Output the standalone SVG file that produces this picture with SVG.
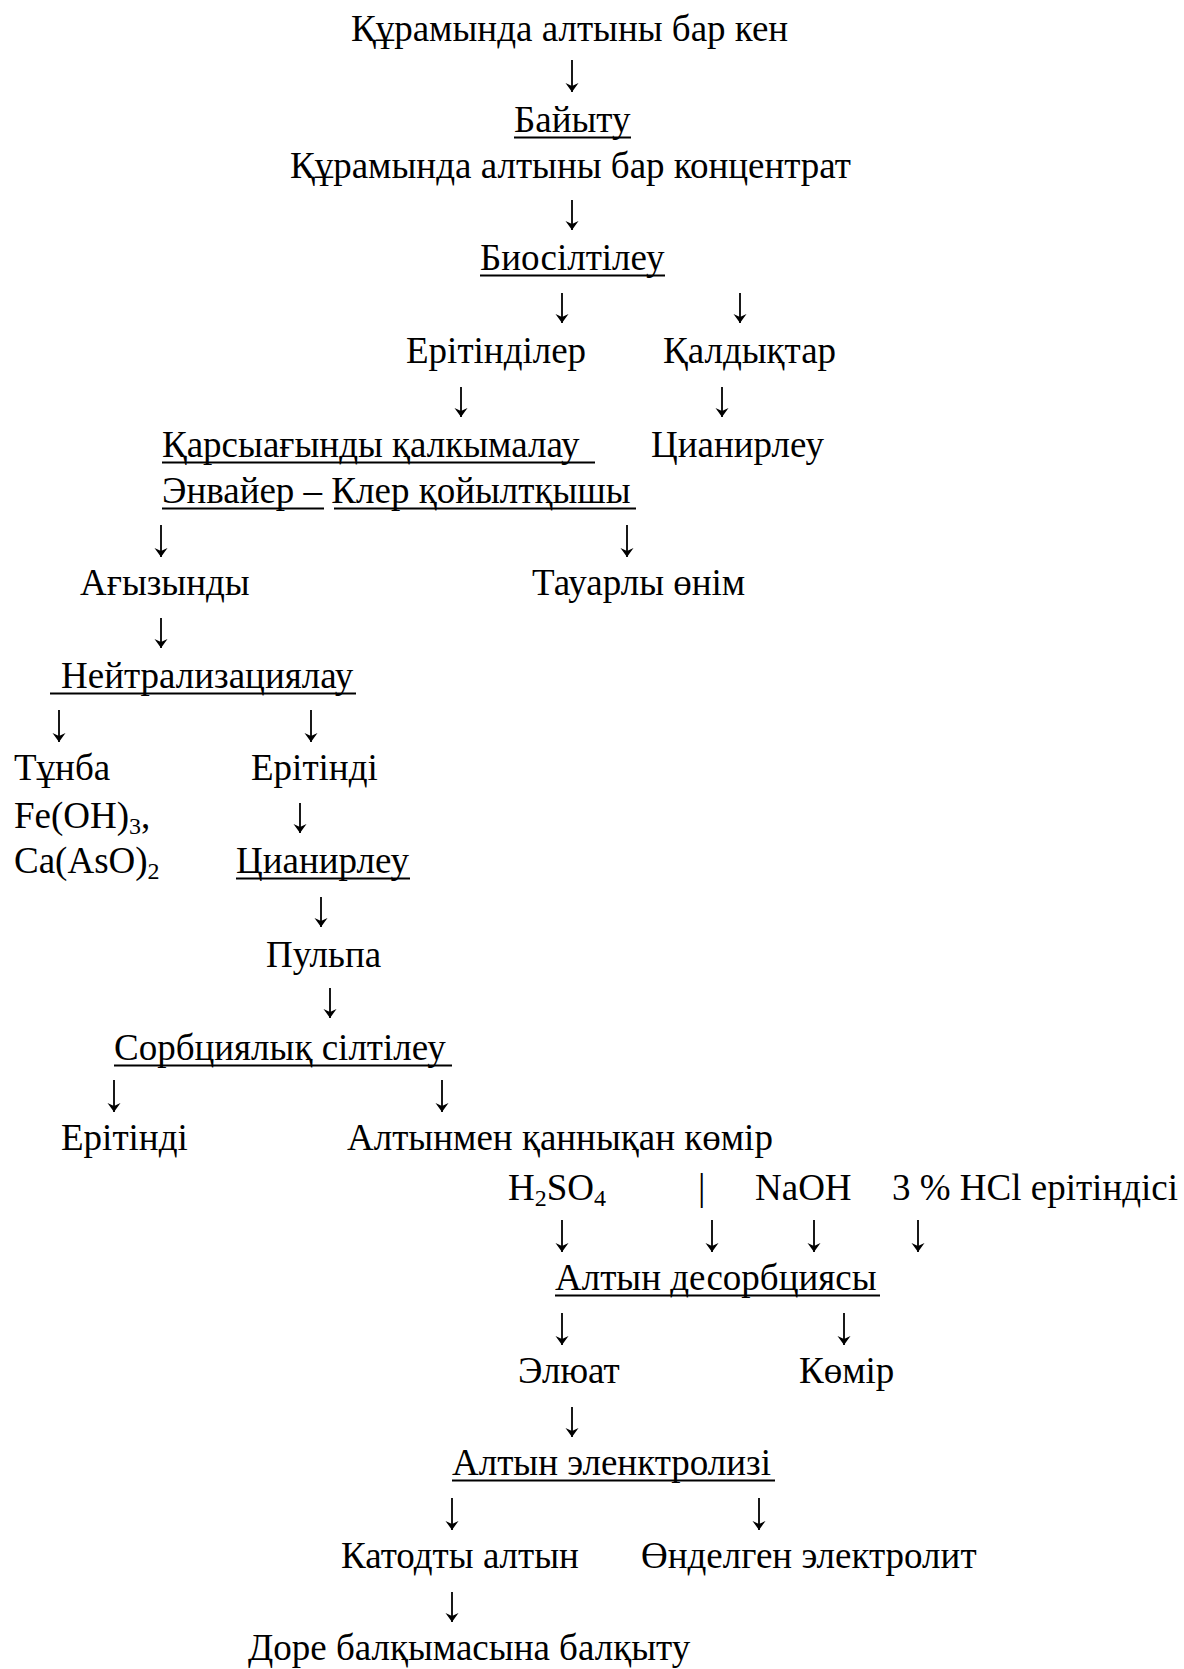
<svg xmlns="http://www.w3.org/2000/svg" width="1184" height="1669" viewBox="0 0 1184 1669">
<style>
text{font-family:"Liberation Serif","Times New Roman",serif;font-size:37px;fill:#000}
.sub{font-size:24px}
.ul{stroke:#000;stroke-width:2}
.ar{stroke:#000;stroke-width:1.8;fill:none}
</style>
<defs>
<marker id="ah" markerWidth="14" markerHeight="16" viewBox="-11 -8 14 16" refX="0" refY="0" markerUnits="userSpaceOnUse" orient="auto">
<path d="M-9,-6.5 L0,0 L-9,6.5 L-6,0 Z" fill="#000" stroke="none"/>
</marker>
</defs>
<rect width="1184" height="1669" fill="#fff"/>
<g id="n1"><text x="351" y="41">Құрамында алтыны бар кен</text></g>
<g id="n2"><text x="514" y="132">Байыту</text><line class="ul" x1="514" y1="137.5" x2="631" y2="137.5"/></g>
<g id="n3"><text x="290" y="178">Құрамында алтыны бар концентрат</text></g>
<g id="n4"><text x="480" y="270">Биосілтілеу</text><line class="ul" x1="480" y1="275.5" x2="665" y2="275.5"/></g>
<g id="n5"><text x="406" y="363">Ерітінділер</text></g>
<g id="n6"><text x="663" y="363">Қалдықтар</text></g>
<g id="n7"><text x="162" y="457">Қарсыағынды қалкымалау</text><line class="ul" x1="162" y1="462.5" x2="595" y2="462.5"/></g>
<g id="n8"><text x="651" y="457">Цианирлеу</text></g>
<g id="n9"><text x="162" y="503">Энвайер – Клер қойылтқышы</text><line class="ul" x1="162" y1="508.5" x2="324" y2="508.5"/><line class="ul" x1="334" y1="508.5" x2="636" y2="508.5"/></g>
<g id="n10"><text x="80" y="595">Ағызынды</text></g>
<g id="n11"><text x="532" y="595">Тауарлы өнім</text></g>
<g id="n12"><text x="61" y="688">Нейтрализациялау</text><line class="ul" x1="50" y1="693.5" x2="356" y2="693.5"/></g>
<g id="n13"><text x="14" y="780">Тұнба</text><text x="14" y="828">Fe(OH)<tspan class="sub" dy="6">3</tspan><tspan dy="-6">,</tspan></text><text x="14" y="873">Ca(AsO)<tspan class="sub" dy="6">2</tspan></text></g>
<g id="n14"><text x="251" y="780">Ерітінді</text></g>
<g id="n15"><text x="236" y="873">Цианирлеу</text><line class="ul" x1="236" y1="878.5" x2="410" y2="878.5"/></g>
<g id="n16"><text x="266" y="967">Пульпа</text></g>
<g id="n17"><text x="114" y="1060">Сорбциялық сілтілеу</text><line class="ul" x1="114" y1="1065.5" x2="452" y2="1065.5"/></g>
<g id="n18"><text x="61" y="1150">Ерітінді</text></g>
<g id="n19"><text x="347" y="1150">Алтынмен қаннықан көмір</text></g>
<g id="n20"><text x="508" y="1200">H<tspan class="sub" dy="6">2</tspan><tspan dy="-6">SO</tspan><tspan class="sub" dy="6">4</tspan></text></g>
<g id="n21"><text x="698" y="1200">|</text></g>
<g id="n22"><text x="755" y="1200">NaOH</text></g>
<g id="n23"><text x="892" y="1200">3 % HCl ерітіндісі</text></g>
<g id="n24"><text x="555" y="1290">Алтын десорбциясы</text><line class="ul" x1="555" y1="1295.5" x2="880" y2="1295.5"/></g>
<g id="n25"><text x="518" y="1383">Элюат</text></g>
<g id="n26"><text x="799" y="1383">Көмір</text></g>
<g id="n27"><text x="452" y="1475">Алтын эленктролизі</text><line class="ul" x1="452" y1="1480.5" x2="775" y2="1480.5"/></g>
<g id="n28"><text x="341" y="1568">Катодты алтын</text></g>
<g id="n29"><text x="641" y="1568">Өнделген электролит</text></g>
<g id="n30"><text x="248" y="1660">Доре балқымасына балқыту</text></g>
<g id="connectors" class="ar">
<line x1="572" y1="60" x2="572" y2="92" marker-end="url(#ah)"/>
<line x1="572" y1="200" x2="572" y2="230" marker-end="url(#ah)"/>
<line x1="562" y1="293" x2="562" y2="323" marker-end="url(#ah)"/>
<line x1="740" y1="293" x2="740" y2="323" marker-end="url(#ah)"/>
<line x1="461" y1="387" x2="461" y2="417" marker-end="url(#ah)"/>
<line x1="722" y1="387" x2="722" y2="417" marker-end="url(#ah)"/>
<line x1="161" y1="525" x2="161" y2="557" marker-end="url(#ah)"/>
<line x1="627" y1="525" x2="627" y2="557" marker-end="url(#ah)"/>
<line x1="161" y1="618" x2="161" y2="648" marker-end="url(#ah)"/>
<line x1="59" y1="710" x2="59" y2="742" marker-end="url(#ah)"/>
<line x1="311" y1="710" x2="311" y2="742" marker-end="url(#ah)"/>
<line x1="300" y1="803" x2="300" y2="833" marker-end="url(#ah)"/>
<line x1="321" y1="897" x2="321" y2="927" marker-end="url(#ah)"/>
<line x1="330" y1="988" x2="330" y2="1018" marker-end="url(#ah)"/>
<line x1="114" y1="1080" x2="114" y2="1112" marker-end="url(#ah)"/>
<line x1="442" y1="1080" x2="442" y2="1112" marker-end="url(#ah)"/>
<line x1="562" y1="1220" x2="562" y2="1252" marker-end="url(#ah)"/>
<line x1="712" y1="1220" x2="712" y2="1252" marker-end="url(#ah)"/>
<line x1="814" y1="1220" x2="814" y2="1252" marker-end="url(#ah)"/>
<line x1="918" y1="1220" x2="918" y2="1252" marker-end="url(#ah)"/>
<line x1="562" y1="1313" x2="562" y2="1345" marker-end="url(#ah)"/>
<line x1="844" y1="1313" x2="844" y2="1345" marker-end="url(#ah)"/>
<line x1="572" y1="1407" x2="572" y2="1437" marker-end="url(#ah)"/>
<line x1="452" y1="1498" x2="452" y2="1530" marker-end="url(#ah)"/>
<line x1="759" y1="1498" x2="759" y2="1530" marker-end="url(#ah)"/>
<line x1="452" y1="1592" x2="452" y2="1622" marker-end="url(#ah)"/>
</g>
</svg>
